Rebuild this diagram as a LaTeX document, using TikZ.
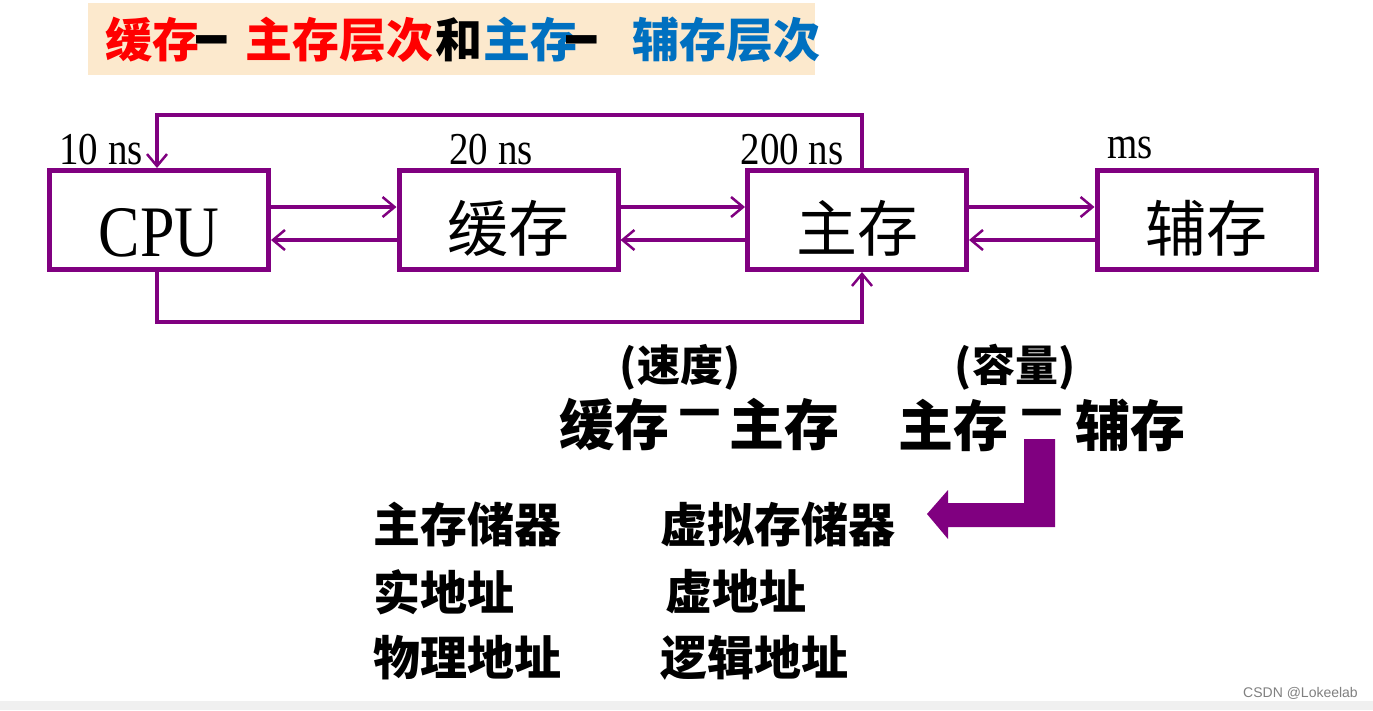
\documentclass[tikz,border=0pt]{standalone}
\usepackage{fontspec}
\setmainfont{Liberation Serif}
\newfontfamily\cjk{Noto Sans CJK SC}
\newfontfamily\wmfont{Liberation Sans}
\usetikzlibrary{arrows.meta}
\definecolor{pur}{HTML}{800080}
\definecolor{tred}{HTML}{FF0000}
\definecolor{tblue}{HTML}{0070C0}
\definecolor{tbg}{HTML}{FCE9CD}
\definecolor{barg}{HTML}{F0F0F0}
\newcommand{\vstr}[1]{\scalebox{1}[1.17]{#1}}
\newcommand{\tdash}{\raisebox{-5pt}{\scalebox{0.65}[1.8]{\wmfont\bfseries —}}}
\newcommand{\hdash}{\raisebox{0.22em}{－}}
\begin{document}
\begin{tikzpicture}[x=1pt,y=-1pt,
  membox/.style={draw=pur,line width=5pt,minimum width=219pt,minimum height=99pt,inner sep=0pt,fill=white,
    font=\cjk\fontsize{61}{61}\selectfont,text height=62pt,text depth=0pt},
  link/.style={pur,line width=4.5pt,-{Straight Barb[length=12pt,width=20pt,line width=2.5pt]}},
  loopln/.style={pur,line width=4pt,-{Straight Barb[length=12pt,width=20pt,line width=2.5pt]}},
  lat/.style={font=\fontsize{39}{40}\selectfont,inner sep=0pt},
  ttl/.style={font=\cjk\bfseries\fontsize{47}{47}\selectfont,inner sep=0pt,anchor=base west},
  mid/.style={font=\cjk\bfseries\fontsize{55}{55}\selectfont,inner sep=0pt},
  par/.style={font=\cjk\bfseries\fontsize{43}{43}\selectfont,inner sep=0pt},
  lst/.style={font=\cjk\bfseries\fontsize{47}{47}\selectfont,inner sep=0pt,anchor=west}
]
\path[use as bounding box,fill=white] (0,0) rectangle (1373,710);
\fill[barg] (0,701) rectangle (1373,710);
\node[anchor=east,inner sep=0pt,text=black!50,font=\wmfont\fontsize{14}{14}\selectfont] (wm) at (1358,693) {CSDN @Lokeelab};

% title
\fill[tbg] (88,3) rectangle (815,75);
\node[ttl,text=tred] (t1) at (105,57) {缓存};
\node[ttl,text=black] (t2) at (196,57) {\tdash};
\node[ttl,text=tred] (t3) at (245,57) {主存层次};
\node[ttl,text=black] (t4) at (435,57) {和};
\node[ttl,text=tblue] (t5) at (483,57) {主存};
\node[ttl,text=black] (t6) at (566,57) {\tdash};
\node[ttl,text=tblue] (t7) at (632,57) {辅存层次};

% boxes
\node[membox,text height=72pt] (cpu) at (159,220) {\rmfamily\fontsize{62}{62}\selectfont\vstr{CPU}};
\node[membox] (cache) at (508.5,220) {缓存};
\node[membox] (mem) at (857,220) {主存};
\node[membox] (aux) at (1206.5,220) {辅存};

% latency labels
\node[lat] (l1) at (101,150) {\vstr{10 ns}};
\node[lat] (l2) at (491,150) {\vstr{20 ns}};
\node[lat] (l3) at (792,150) {\vstr{200 ns}};
\node[lat] (l4) at (1130,148) {\vstr{ms}};

% links
\coordinate (ya) at (0,207);
\coordinate (yb) at (0,240);
\draw[link] (cpu.east |- ya) -- (cache.west |- ya);
\draw[link] (cache.west |- yb) -- (cpu.east |- yb);
\draw[link] (cache.east |- ya) -- (mem.west |- ya);
\draw[link] (mem.west |- yb) -- (cache.east |- yb);
\draw[link] (mem.east |- ya) -- (aux.west |- ya);
\draw[link] (aux.west |- yb) -- (mem.east |- yb);

% loops
\coordinate (top) at (0,115);
\coordinate (bot) at (0,322);
\coordinate (cpuT) at ([xshift=-2pt]cpu.north);
\coordinate (cpuB) at ([xshift=-2pt]cpu.south);
\coordinate (memT) at ([xshift=5pt]mem.north);
\coordinate (memB) at ([xshift=5pt]mem.south);
\draw[loopln] (memT) |- (cpuT |- top) -- (cpuT);
\draw[loopln] (cpuB) |- (memB |- bot) -- (memB);

% middle texts
\node[par] (p1) at (680,367) {(速度)};
\node[par] (p2) at (1015,367) {(容量)};
\node[mid] (m1) at (699,425) {缓存\hspace{3pt}\hdash\hspace{2pt}主存};
\node[mid] (m2) at (1042,425) {主存\hspace{6pt}\hdash\hspace{6pt}辅存};

% bent arrow
\fill[pur] (1024,439) -- (1055,439) -- (1055,527) -- (948,527) -- (948,539) -- (927,514)
  -- (948,490) -- (948,503) -- (1024,503) -- cycle;

% lists
\node[lst] (a1) at (373,525) {主存储器};
\node[lst] (a2) at (373,592) {实地址};
\node[lst] (a3) at (373,658) {物理地址};
\node[lst] (b1) at (660,525) {虚拟存储器};
\node[lst] (b2) at (665,592) {虚地址};
\node[lst] (b3) at (660,658) {逻辑地址};
\end{tikzpicture}
\end{document}
